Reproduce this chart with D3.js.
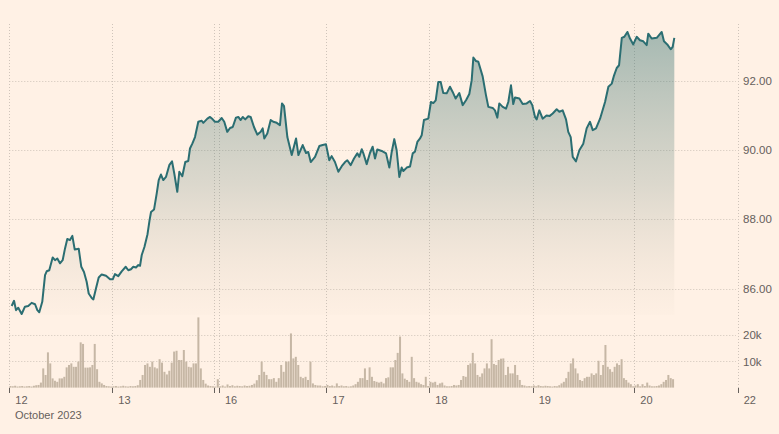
<!DOCTYPE html>
<html><head><meta charset="utf-8">
<script src="https://cdn.jsdelivr.net/npm/d3@7"></script>
<style>
html,body{margin:0;padding:0;background:#fff1e5;}
svg{display:block;}
text{font-family:"Liberation Sans",Arial,sans-serif;fill:#66605c;}
</style></head>
<body>
<svg id="chart" width="779" height="434"></svg>
<script>
// ---- data ----
const dayLabels = ["12","13","16","17","18","19","20","22"];
const monthLabel = "October 2023";
const priceTicks = [86, 88, 90, 92];
const volumeTicks = [10000, 20000];
// fractional trading-day position of each price sample
const times = [0.023,0.046,0.065,0.087,0.120,0.152,0.184,0.217,0.250,0.272,0.291,0.320,0.347,0.363,0.388,0.421,0.444,0.466,0.492,0.518,0.541,0.563,0.589,0.612,0.635,0.674,0.699,0.725,0.751,0.771,0.800,0.816,0.842,0.868,0.897,0.939,0.978,
1.004,1.025,1.056,1.088,1.126,1.150,1.175,1.197,1.222,1.244,1.260,1.276,1.301,1.330,1.349,1.363,1.391,1.416,1.435,1.456,1.478,1.503,1.534,1.560,1.581,1.609,1.628,1.656,1.684,1.712,1.728,1.750,1.775,1.806,1.838,1.853,1.891,1.916,1.941,1.962,1.993,
2.025,2.049,2.077,2.103,2.128,2.158,2.180,2.202,2.221,2.245,2.273,2.295,2.326,2.357,2.389,2.407,2.422,2.450,2.482,2.506,2.538,2.568,2.587,2.606,2.637,2.678,2.718,2.740,2.780,2.811,2.832,2.855,2.895,2.935,2.966,2.997,
3.029,3.052,3.084,3.117,3.150,3.182,3.204,3.237,3.269,3.301,3.320,3.344,3.359,3.392,3.424,3.450,3.473,3.495,3.538,3.580,3.612,3.635,3.660,3.683,3.709,3.732,3.748,3.781,3.813,3.839,3.861,3.884,3.910,3.926,3.948,3.990,
4.016,4.039,4.062,4.087,4.110,4.135,4.168,4.200,4.226,4.255,4.290,4.323,4.355,4.387,4.410,4.426,4.452,4.474,4.516,4.548,4.571,4.613,4.635,4.658,4.677,4.710,4.742,4.764,4.790,4.812,4.829,4.871,4.903,4.942,4.974,4.996,
5.023,5.039,5.065,5.098,5.136,5.168,5.197,5.236,5.262,5.295,5.328,5.350,5.374,5.394,5.426,5.459,5.498,5.531,5.564,5.591,5.623,5.663,5.712,5.745,5.778,5.801,5.827,5.850,5.877,5.902,5.932,5.958,5.990,
6.023,6.055,6.087,6.120,6.135,6.168,6.217,6.265,6.287,6.319,6.352,6.371,6.387];
const prices = [85.50,85.65,85.38,85.45,85.27,85.48,85.50,85.59,85.55,85.38,85.32,85.62,86.39,86.50,86.53,86.90,86.82,86.87,86.73,86.82,87.16,87.43,87.40,87.52,87.13,87.15,86.63,86.48,86.20,85.86,85.73,85.69,86.01,86.32,86.41,86.37,86.27,
86.27,86.42,86.36,86.50,86.63,86.53,86.56,86.63,86.61,86.68,86.66,86.97,87.20,87.57,87.97,88.21,88.28,88.74,89.13,89.29,89.13,89.22,89.56,89.67,89.32,88.79,89.37,89.24,89.65,89.68,90.04,90.18,90.37,90.81,90.84,90.78,90.90,90.95,90.88,90.81,90.81,
90.92,90.81,90.52,90.63,90.66,90.93,90.95,90.86,90.95,90.88,90.97,90.95,90.66,90.44,90.52,90.62,90.33,90.47,90.86,90.81,90.78,90.71,91.34,91.26,90.37,89.85,90.33,89.85,90.14,89.91,89.94,89.65,89.80,90.11,90.14,90.16,
89.70,89.82,89.65,89.37,89.53,89.65,89.70,89.56,89.75,89.90,89.80,90.02,89.91,89.59,89.91,90.09,89.75,90.01,89.97,89.90,89.49,89.94,90.31,89.99,89.22,89.49,89.39,89.49,89.52,89.90,89.95,90.23,90.33,90.42,90.86,90.90,
91.38,91.35,91.43,91.96,91.96,91.64,91.63,91.82,91.67,91.48,91.64,91.29,91.43,91.61,92.01,92.66,92.56,92.54,92.12,91.58,91.24,91.21,91.14,90.93,91.34,91.24,91.19,91.38,91.86,91.32,91.51,91.48,91.32,91.34,91.41,91.29,
90.95,90.88,91.14,90.90,90.99,90.98,91.05,91.17,91.10,91.14,90.88,90.52,90.37,89.80,89.67,89.99,90.18,90.62,90.81,90.57,90.62,90.90,91.38,91.82,91.91,92.15,92.36,92.44,93.23,93.26,93.40,93.21,93.04,
93.26,93.16,93.13,93.02,93.35,93.21,93.23,93.40,93.13,93.04,92.90,92.97,93.23];
// volume bars per trading day (evenly spaced within each day), in thousands
const volDay12 = [0.6,0.5,0.7,0.4,0.5,0.6,0.4,0.5,0.6,0.4,0.7,0.9,1.0,1.9,7.3,4.8,13.4,9.2,3.5,2.6,2.2,3.5,3.5,4.1,7.7,8.6,9.2,7.9,7.9,9.9,17.2,16.6,7.6,7.6,7.7,8.6,16.6,7.0,2.2,1.6,1.0,0.6,0.5,0.4];
const volDay13 = [0.5,0.6,0.4,0.5,0.7,0.5,0.4,0.6,0.5,0.6,0.9,2.9,4.8,8.6,9.2,7.9,9.9,7.7,7.3,10.8,9.5,6.0,5.0,6.4,9.5,13.7,14.0,10.5,10.5,14.3,9.9,7.9,7.7,9.2,9.2,26.7,7.3,2.9,1.5,0.8,0.6,0.5,0.4,3.2];
const volDay16 = [0.5,0.8,0.4,1.2,0.6,0.9,0.5,0.7,0.6,0.5,0.8,0.6,0.7,1.0,1.5,2.8,4.8,9.9,6.0,4.8,3.2,3.2,3.6,2.2,3.6,8.6,6.0,9.9,9.9,20.6,11.1,11.7,8.6,4.1,3.6,4.1,2.9,9.9,1.6,1.0,0.8,0.8,0.5,0.6];
const volDay17 = [1.0,0.6,0.8,0.5,1.6,0.6,0.8,0.5,0.6,0.4,0.5,0.8,1.3,2.2,3.6,3.6,7.3,2.9,7.7,4.1,2.5,2.2,1.9,2.2,1.6,3.6,3.9,7.7,7.7,10.5,13.2,19.4,5.4,3.4,2.9,2.2,11.7,3.6,2.2,1.9,1.3,1.0,4.1,0.6];
const volDay18 = [2.2,1.9,2.2,1.0,1.6,1.9,0.8,0.5,0.5,0.6,1.0,0.8,1.0,2.9,4.4,4.1,8.6,9.2,13.2,9.2,4.8,4.1,5.4,7.3,9.2,7.3,18.4,9.0,8.6,10.5,11.0,11.1,4.8,7.9,5.4,5.4,8.6,4.8,2.9,1.0,0.8,0.5,0.6,0.5];
const volDay19 = [0.8,0.5,0.9,0.6,0.5,0.7,0.6,0.5,0.4,0.6,0.5,0.9,1.6,2.2,3.6,6.0,9.2,11.1,7.3,5.4,2.9,2.5,3.6,4.1,4.1,5.4,4.8,5.4,10.2,4.8,8.6,16.2,7.9,7.0,6.0,7.9,9.2,8.6,10.8,3.6,2.9,1.9,1.3,0.5];
const volDay20 = [0.8,1.3,0.5,1.3,0.6,1.9,0.8,0.5,0.5,0.6,0.8,1.3,2.2,2.9,4.8,3.6,3.2];
const volumeDays = [volDay12, volDay13, volDay16, volDay17, volDay18, volDay19, volDay20];
const barsPerDay = 44;

// ---- layout ----
const plotLeft = 9.3;
const dayEdges = [9.3,112.3,219,326.3,429.3,532.7,634.3,737.7];
const svg = d3.select("#chart");

const x = d3.scaleLinear().domain(d3.range(dayEdges.length)).range(dayEdges);
const yP = d3.scaleLinear().domain([85.2, 93.6]).range([316.4, 25]);
const yV = d3.scaleLinear().domain([0, 20000]).range([387.6, 335]);

const gridColor = "#cfc4ba";
const defs = svg.append("defs");
const grad = defs.append("linearGradient").attr("id","areaGrad")
  .attr("gradientUnits","userSpaceOnUse").attr("x1",0).attr("x2",0).attr("y1",yP(93.6)).attr("y2",yP(85.2));
grad.append("stop").attr("offset","0%").attr("stop-color","#2d6e6e").attr("stop-opacity",0.44);
grad.append("stop").attr("offset","55%").attr("stop-color","#5f8078").attr("stop-opacity",0.22);
grad.append("stop").attr("offset","100%").attr("stop-color","#b8a890").attr("stop-opacity",0.02);

const gridRight = 736;
svg.append("g").selectAll("line").data(priceTicks).join("line")
  .attr("x1", plotLeft).attr("x2", gridRight)
  .attr("y1", d => Math.round(yP(d))+0.5).attr("y2", d => Math.round(yP(d))+0.5)
  .attr("stroke", gridColor).attr("stroke-dasharray","1,2");
svg.append("g").selectAll("line").data(volumeTicks).join("line")
  .attr("x1", plotLeft).attr("x2", gridRight)
  .attr("y1", d => Math.round(yV(d))+0.5).attr("y2", d => Math.round(yV(d))+0.5)
  .attr("stroke", gridColor).attr("stroke-dasharray","1,2");

const xTicks = dayLabels.map((l,i) => ({t:i, label:l}));
const weekendTick = 1 + (214 - dayEdges[1]) / (dayEdges[2] - dayEdges[1]);
const allTicks = xTicks.concat([{t: weekendTick, label: ""}]);
svg.append("g").selectAll("line").data(allTicks).join("line")
  .attr("x1", d => Math.round(x(d.t))+0.5).attr("x2", d => Math.round(x(d.t))+0.5)
  .attr("y1", 24).attr("y2", 388)
  .attr("stroke", gridColor).attr("stroke-dasharray","1,2");

const pts = times.map((t,i) => ({t, p: prices[i]}));
svg.append("path").datum(pts)
  .attr("d", d3.area().x(d => x(d.t)).y0(yP(85.24)).y1(d => yP(d.p)))
  .attr("fill","url(#areaGrad)");
svg.append("path").datum(pts)
  .attr("d", d3.line().x(d => x(d.t)).y(d => yP(d.p)))
  .attr("fill","none").attr("stroke","#2b6e72").attr("stroke-width",2).attr("stroke-linejoin","round");

const bars = [];
volumeDays.forEach((arr, d) => arr.forEach((v, i) => bars.push({t: d + (i + 0.5) / barsPerDay, v: v * 1000})));
svg.append("g").selectAll("rect").data(bars).join("rect")
  .attr("x", d => x(d.t) - 1)
  .attr("width", 2)
  .attr("y", d => yV(d.v))
  .attr("height", d => yV(0) - yV(d.v))
  .attr("fill", "#c6b7a5");

svg.append("g").selectAll("line").data(allTicks).join("line")
  .attr("x1", d => Math.round(x(d.t))+0.5).attr("x2", d => Math.round(x(d.t))+0.5)
  .attr("y1", 388).attr("y2", 393)
  .attr("stroke", "#66605c");
svg.append("g").selectAll("text").data(xTicks).join("text")
  .attr("x", d => x(d.t) + 6).attr("y", 403.5)
  .attr("font-size", "11px").text(d => d.label);
svg.append("text").attr("x", 15).attr("y", 418.5).attr("font-size","11px").text(monthLabel);

svg.append("g").selectAll("text").data(priceTicks).join("text")
  .attr("x", 743).attr("y", d => yP(d) + 4.2)
  .attr("font-size","11.5px").text(d => d3.format(".2f")(d));
svg.append("g").selectAll("text").data(volumeTicks).join("text")
  .attr("x", 743).attr("y", d => yV(d) + 4.2)
  .attr("font-size","11.5px").text(d => d3.format("~s")(d));
</script>
</body></html>
